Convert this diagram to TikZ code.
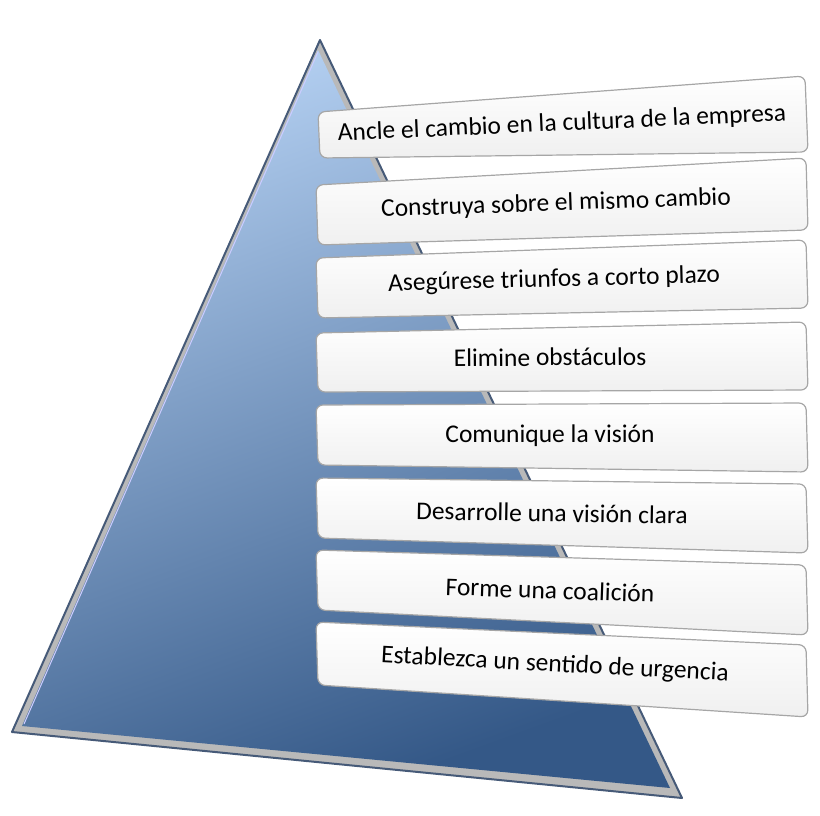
\documentclass[tikz,border=0pt]{standalone}
\usepackage{fontspec}
\setmainfont{Carlito}
\definecolor{toplt}{RGB}{178,206,240}
\definecolor{botdk}{RGB}{52,88,135}
\definecolor{edgec}{RGB}{70,90,120}
\begin{document}
\begin{tikzpicture}[x=1pt,y=-1pt,
  boxshape/.style={draw=gray!70,line width=1.2pt,rounded corners=7pt,top color=white,bottom color=gray!12},
  lbl/.style={font=\fontsize{25.5}{28}\selectfont,text=black}]
\useasboundingbox (0,0) rectangle (820,815);
% pyramid
\fill[gray!55] (320,40) -- (12,732) -- (682,798) -- cycle;
\shade[top color=toplt,bottom color=botdk,shading angle=20]
  (318,50) -- (22,726) -- (670,788) -- cycle;
\draw[edgec,line width=2pt,line join=round] (320,40) -- (12,732) -- (682,798) -- cycle;
\draw[white!80!blue,line width=1pt] (318,52) -- (24,724);
% boxes
\foreach \a/\b/\c/\d/\e/\f/\g/\h in {
 318/112/805/76/808/152/320/158,
 316/185/806/158/808/230/318/245,
 316/258/806/240/808/308/318/318,
 316/333/806/322/808/390/318/392,
 316/405/806/403/808/472/318/465,
 316/478/806/484/808/553/318/538,
 316/550/806/565/808/635/318/610,
 316/622/806/645/808/717/318/685}
 {\path[boxshape] (\a,\b) -- (\c,\d) -- (\e,\f) -- (\g,\h) -- cycle;}
\node[lbl,rotate=2.6] (t1) at (562,124) {Ancle el cambio en la cultura de la empresa};
\node[lbl,rotate=2] (t2) at (556,204) {Construya sobre el mismo cambio};
\node[lbl,rotate=1.5] (t3) at (554,280) {Asegúrese triunfos a corto plazo};
\node[lbl,rotate=0.5] (t4) at (550,357) {Elimine obstáculos};
\node[lbl,rotate=0] (t5) at (550,436) {Comunique la visión};
\node[lbl,rotate=-1] (t6) at (552,513) {Desarrolle una visión clara};
\node[lbl,rotate=-2] (t7) at (550,590) {Forme una coalición};
\node[lbl,rotate=-3] (t8) at (555,665) {Establezca un sentido de urgencia};
\end{tikzpicture}
\end{document}
